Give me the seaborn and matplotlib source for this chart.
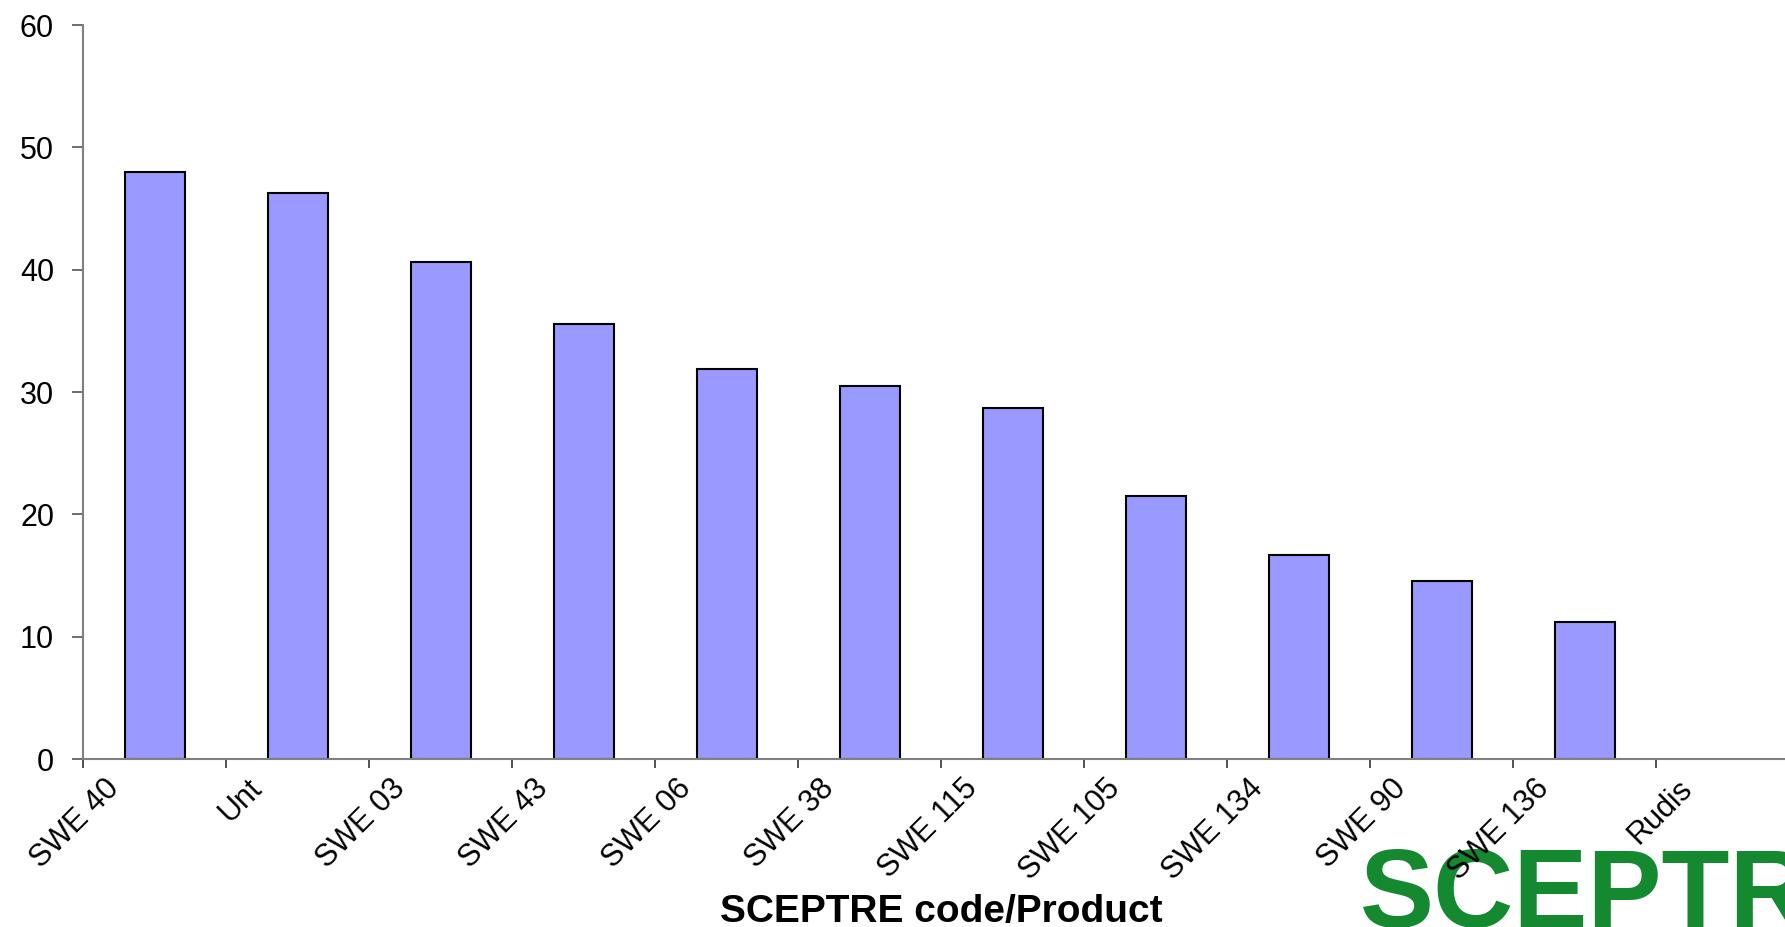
import numpy as np
import pandas as pd
import matplotlib
matplotlib.use("Agg")
import matplotlib.pyplot as plt
import seaborn as sns

# Product codes, sorted by value
categories = ["SWE 40", "Unt", "SWE 03", "SWE 43", "SWE 06", "SWE 38",
              "SWE 115", "SWE 105", "SWE 134", "SWE 90", "SWE 136", "Rudis"]
values = [48.0, 46.3, 40.6, 35.6, 31.9, 30.5, 28.7, 21.5, 16.7, 14.6, 11.2, 0.0]
y_ticks = [0, 10, 20, 30, 40, 50, 60]
x_title = "SCEPTRE code/Product"
logo_text = "SCEPTRE"

sns.set_style("white")
plt.rcParams["font.family"] = ["Liberation Sans", "DejaVu Sans"]

DPI = 100
fig = plt.figure(figsize=(17.85, 9.27), dpi=DPI)
# axes run slightly past the right edge of the figure
ax = fig.add_axes([0.0466, 0.1810, 1.0080 - 0.0466, 0.9730 - 0.1810])

df = pd.DataFrame({"code": categories, "value": values})
sns.barplot(data=df, x="code", y="value", order=categories, color="#9999ff",
            saturation=1, edgecolor="black", linewidth=1.5, width=0.42, ax=ax)
for p in ax.patches:
    if p.get_height() == 0:
        p.set_linewidth(0)

n = len(categories)
ax.set_xlim(-0.5, n - 0.5)
ax.set_ylim(y_ticks[0], y_ticks[-1])
ax.set_yticks(y_ticks)
ax.set_yticklabels([str(v) for v in y_ticks], fontsize=22, color="black")

# tick marks sit on the boundaries between bars (minor ticks);
# the rotated names hang just to the right of each boundary (major ticks)
ax.set_xticks(np.arange(n + 1) - 0.5, minor=True)
ax.set_xticks(np.arange(n) - 0.5 + 0.22)
ax.set_xticklabels(categories, fontsize=22, rotation=45, color="black",
                   ha="right", va="center", rotation_mode="anchor")

ax.tick_params(axis="x", which="major", length=0, pad=18)
ax.tick_params(axis="x", which="minor", direction="out", length=6.5,
               width=1.2, color="#333333", bottom=True)
ax.tick_params(axis="y", direction="out", length=8, width=1.2,
               color="#555555", pad=13, left=True)

for side in ["top", "right"]:
    ax.spines[side].set_visible(False)
for side in ["left", "bottom"]:
    ax.spines[side].set_color("#808080")
    ax.spines[side].set_linewidth(1.5)

ax.set_xlabel("")
ax.set_ylabel("")
fig.text(941 / 1785, 1 - 912 / 927, x_title, ha="center", va="center",
         fontsize=28, fontweight="bold", color="black")

# green wordmark in the lower right corner
fig.text(1360 / 1785, 1 - 846 / 927, logo_text, ha="left", va="top",
         fontsize=80, fontweight="bold", color="#15892f", zorder=-1)

fig.savefig("out.png", dpi=DPI)
